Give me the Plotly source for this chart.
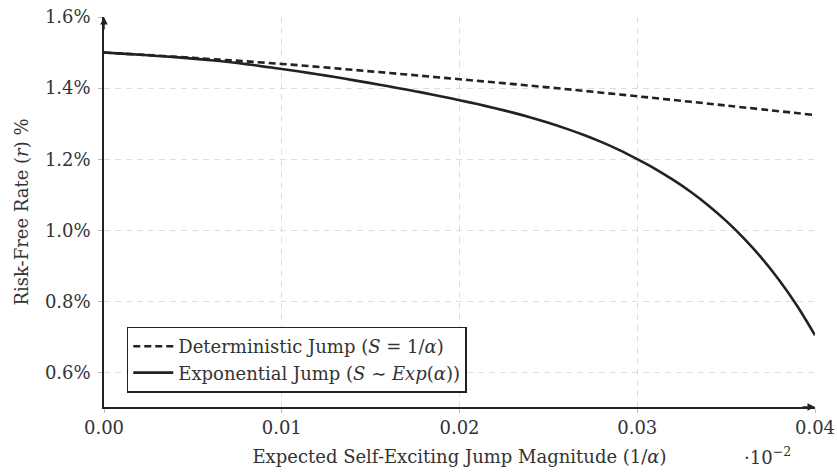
import plotly.graph_objects as go

# Expected self-exciting jump magnitude (1/alpha), in units of 10^-2
x_det = [0.0, 0.005, 0.01, 0.015, 0.02, 0.025, 0.03, 0.035, 0.04]
r_det = [1.500, 1.485, 1.468, 1.447, 1.425, 1.402, 1.377, 1.351, 1.324]

x_exp = [0.000, 0.001, 0.002, 0.003, 0.004, 0.005, 0.006, 0.007, 0.008, 0.009,
         0.010, 0.011, 0.012, 0.013, 0.014, 0.015, 0.016, 0.017, 0.018, 0.019,
         0.020, 0.021, 0.022, 0.023, 0.024, 0.025, 0.026, 0.027, 0.028, 0.029,
         0.030, 0.031, 0.032, 0.033, 0.034, 0.035, 0.036, 0.037, 0.038, 0.039,
         0.040]
r_exp = [1.500, 1.497, 1.494, 1.4905, 1.487, 1.483, 1.4785, 1.4735, 1.4675, 1.4605,
         1.4535, 1.4465, 1.439, 1.431, 1.4225, 1.414, 1.405, 1.396, 1.3865, 1.3765,
         1.366, 1.355, 1.3435, 1.331, 1.3175, 1.3025, 1.286, 1.268, 1.248, 1.2255,
         1.200, 1.173, 1.1425, 1.1085, 1.070, 1.0265, 0.9775, 0.922, 0.859, 0.787,
         0.705]

x_ticks = [0.0, 0.01, 0.02, 0.03, 0.04]
x_tick_text = ["0.00", "0.01", "0.02", "0.03", "0.04"]
y_ticks = [0.6, 0.8, 1.0, 1.2, 1.4, 1.6]
y_tick_text = ["0.6%", "0.8%", "1.0%", "1.2%", "1.4%", "1.6%"]

FONT = "DejaVu Serif"
FS = 18
INK = "#222222"
TXT = "#333333"

fig = go.Figure()
fig.add_trace(go.Scatter(
    x=x_det, y=r_det, mode="lines", line_shape="spline",
    name="Deterministic Jump (<i>S</i> = 1/<i>α</i>)",
    line=dict(color=INK, width=2.6, dash="7px,4px")))
fig.add_trace(go.Scatter(
    x=x_exp, y=r_exp, mode="lines", line=dict(color=INK, width=2.6, shape="spline", smoothing=0.8),
    name="Exponential Jump (<i>S</i> ∼ <i>Exp</i>(<i>α</i>))"))

fig.update_layout(
    width=837, height=472,
    margin=dict(l=104, r=22, t=17, b=65),
    paper_bgcolor="white", plot_bgcolor="white",
    font=dict(family=FONT, size=FS, color=TXT),
    showlegend=True,
    legend=dict(x=0.032, y=0.037, xanchor="left", yanchor="bottom",
                bordercolor=INK, borderwidth=1.5, bgcolor="white",
                font=dict(family=FONT, size=FS, color=TXT),
                tracegroupgap=0, itemwidth=40),
)
fig.update_xaxes(
    range=[0, 0.04], tickvals=x_ticks, ticktext=x_tick_text, automargin=False,
    showgrid=True, gridcolor="#dddddd", griddash="6px,5px", gridwidth=1,
    showline=True, linecolor=INK, linewidth=1.5,
    ticks="outside", ticklen=4, tickcolor="#bbbbbb",
    zeroline=False,
    title=dict(text="Expected Self-Exciting Jump Magnitude (1/<i>α</i>)",
               font=dict(family=FONT, size=FS, color=TXT), standoff=13),
)
fig.update_yaxes(
    range=[0.503, 1.6], tickvals=y_ticks, ticktext=y_tick_text, automargin=False,
    showgrid=True, gridcolor="#dddddd", griddash="6px,5px", gridwidth=1,
    showline=True, linecolor=INK, linewidth=1.5,
    ticks="outside", ticklen=4, tickcolor="#bbbbbb", ticklabelstandoff=4,
    zeroline=False,
    title=dict(text="Risk-Free Rate (<i>r</i>) %",
               font=dict(family=FONT, size=FS, color=TXT), standoff=12),
)

# axis arrowheads
fig.add_annotation(x=0, y=1.6, xref="x", yref="y", ax=0, ay=14, showarrow=True,
                   arrowhead=2, arrowsize=1, arrowwidth=1.5, arrowcolor=INK, text="")
fig.add_annotation(x=0.04, y=0.503, xref="x", yref="y", ax=-14, ay=0, showarrow=True,
                   arrowhead=2, arrowsize=1, arrowwidth=1.5, arrowcolor=INK, text="")
# scale factor label
fig.add_annotation(x=0.0373, y=-0.125, xref="x", yref="paper", showarrow=False,
                   text="·10<sup>−2</sup>", xanchor="center", yanchor="middle",
                   font=dict(family=FONT, size=FS, color=TXT))

fig.write_html("out.html")
